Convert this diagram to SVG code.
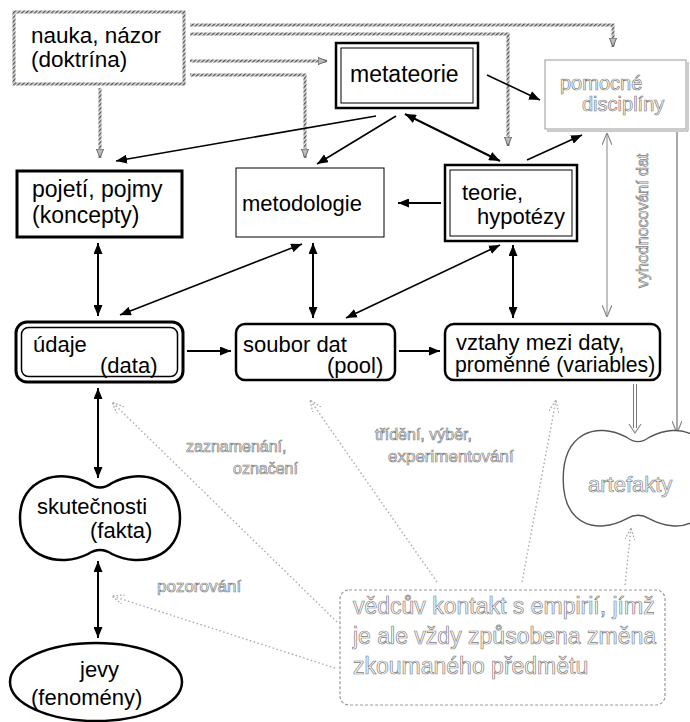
<svg xmlns="http://www.w3.org/2000/svg" width="690" height="722" viewBox="0 0 690 722">
<style>
text{font-family:"Liberation Sans",Arial,sans-serif;fill:#000}
.t{font-size:22px}
.o{fill:#fff;stroke:#808080;stroke-width:0.7}
.c{stroke:#000;fill:none;stroke-width:1.6}
.cv{stroke:#000;fill:none;stroke-width:2}
.h{fill:none;stroke:url(#hatch);stroke-width:3}
.d{fill:none;stroke:#aaa;stroke-width:1.4;stroke-dasharray:1.5 2.5}
</style>
<defs>
<pattern id="hatch" width="3" height="3" patternUnits="userSpaceOnUse" patternTransform="rotate(45)">
<rect width="3" height="3" fill="#e0e0e0"/><rect width="1.4" height="3" fill="#555"/>
</pattern>
<marker id="ah" viewBox="0 0 10 10" refX="10" refY="5" markerWidth="11" markerHeight="9" markerUnits="userSpaceOnUse" orient="auto-start-reverse" preserveAspectRatio="none">
<path d="M0,0 L10,5 L0,10 Z" fill="#000"/>
</marker>
<marker id="hh" viewBox="0 0 10 10" refX="10" refY="5" markerWidth="9" markerHeight="8" markerUnits="userSpaceOnUse" orient="auto" preserveAspectRatio="none">
<path d="M0,0.5 L10,5 L0,9.5 Z" fill="#bbb" stroke="#555" stroke-width="1"/>
</marker>
<marker id="va" viewBox="0 0 10 10" refX="10" refY="5" markerWidth="12" markerHeight="10" markerUnits="userSpaceOnUse" orient="auto-start-reverse" preserveAspectRatio="none">
<path d="M0,0 L10,5 L0,10" fill="none" stroke="#888" stroke-width="1.2"/>
</marker>
<marker id="vd" viewBox="0 0 10 10" refX="10" refY="5" markerWidth="12" markerHeight="10" markerUnits="userSpaceOnUse" orient="auto" preserveAspectRatio="none">
<path d="M0,0 L10,5 L0,10" fill="none" stroke="#aaa" stroke-width="1.2" stroke-dasharray="1.5 1.5"/>
</marker>
<path id="pean" d="M626,439 Q638,448 650,439 C680,423 711,435 711,479 C711,523 680,533 650,517 Q638,510 626,517 C596,533 565,523 565,479 C565,435 596,423 626,439 Z"/>
</defs>

<g id="connectors">
<path class="h" d="M190,25 H613 V47" marker-end="url(#hh)"/>
<path class="h" d="M190,34 H508 V146" marker-end="url(#hh)"/>
<path class="h" d="M190,61 H327" marker-end="url(#hh)"/>
<path class="h" d="M190,75 H305 V158" marker-end="url(#hh)"/>
<path class="h" d="M100,88 V158" marker-end="url(#hh)"/>

<path class="c" d="M376,116 L116,161" marker-end="url(#ah)"/>
<path class="c" d="M396,116 L317,164" marker-end="url(#ah)"/>
<path class="cv" d="M405,114 L500,161" marker-start="url(#ah)" marker-end="url(#ah)"/>
<path class="c" d="M487,75 L540,100" marker-end="url(#ah)"/>
<path class="c" d="M527,160 L582,135" marker-end="url(#ah)"/>
<path class="cv" d="M441,203 L398,203" marker-end="url(#ah)"/>
<path class="cv" d="M98,243 L98,316" marker-start="url(#ah)" marker-end="url(#ah)"/>
<path class="c" d="M302,244 L120,315" marker-start="url(#ah)" marker-end="url(#ah)"/>
<path class="cv" d="M313,243 L313,318" marker-start="url(#ah)" marker-end="url(#ah)"/>
<path class="c" d="M500,245 L346,318" marker-start="url(#ah)" marker-end="url(#ah)"/>
<path class="cv" d="M513,245 L513,318" marker-start="url(#ah)" marker-end="url(#ah)"/>
<path class="cv" d="M187,351 L231,351" marker-end="url(#ah)"/>
<path class="cv" d="M399,351 L440,351" marker-end="url(#ah)"/>
<path class="cv" d="M98,388 L98,478" marker-start="url(#ah)" marker-end="url(#ah)"/>
<path class="cv" d="M98,561 L98,638" marker-start="url(#ah)" marker-end="url(#ah)"/>

<path d="M607,133 V317" fill="none" stroke="#999" stroke-width="1.2" marker-start="url(#va)" marker-end="url(#va)"/>
<path d="M677,132 V433" fill="none" stroke="#555" stroke-width="1" marker-end="url(#va)"/>
<path d="M635,384 V428" fill="none" stroke="#777" stroke-width="4"/>
<path d="M635,383 V429" fill="none" stroke="#fff" stroke-width="2"/>
<path d="M629,424 L635,433 L641,424" fill="none" stroke="#888" stroke-width="1.2"/>

<path class="d" d="M337,622 L112,402" marker-end="url(#vd)"/>
<path class="d" d="M437,582 L310,400" marker-end="url(#vd)"/>
<path class="d" d="M522,582 L556,400" marker-end="url(#vd)"/>
<path class="d" d="M625,585 L631,528" marker-end="url(#vd)"/>
<path class="d" d="M335,668 L112,596" marker-end="url(#vd)"/>
</g>

<g id="nauka">
<rect x="14" y="12" width="170" height="72" fill="#fff" stroke="url(#hatch)" stroke-width="3"/>
<text x="31" y="43" font-size="22.5">nauka, názor</text>
<text x="31" y="67" font-size="22.5">(doktrína)</text>
</g>

<g id="metateorie">
<rect x="336" y="43" width="142" height="65" fill="#fff" stroke="#000" stroke-width="2.5"/>
<rect x="341" y="48" width="132" height="55" fill="none" stroke="#000" stroke-width="1"/>
<text x="350" y="82" font-size="23">metateorie</text>
</g>

<g id="pomocne">
<rect x="545" y="60" width="141" height="69" fill="#fff" stroke="#999" stroke-width="1"/>
<path d="M688,62 V131 H547" fill="none" stroke="#999" stroke-width="1"/>
<text class="o" x="560" y="90" font-size="20">pomocné</text>
<text class="o" x="582" y="111" font-size="20">disciplíny</text>
</g>

<g id="pojeti">
<rect x="17" y="171" width="165" height="66" fill="#fff" stroke="#000" stroke-width="3"/>
<text x="32" y="197" font-size="23">pojetí, pojmy</text>
<text x="32" y="223" font-size="23">(koncepty)</text>
</g>

<g id="metodologie">
<rect x="236" y="168" width="148" height="69" fill="#fff" stroke="#000" stroke-width="1"/>
<text class="t" x="242" y="211">metodologie</text>
</g>

<g id="teorie">
<rect x="445" y="165" width="132" height="76" fill="#fff" stroke="#000" stroke-width="2.5"/>
<rect x="450" y="170" width="122" height="66" fill="none" stroke="#000" stroke-width="1"/>
<text class="t" x="462" y="200">teorie,</text>
<text class="t" x="477" y="224">hypotézy</text>
</g>

<g id="udaje">
<rect x="16" y="322" width="167" height="60" rx="11" fill="#fff" stroke="#000" stroke-width="3"/>
<rect x="21.5" y="327.5" width="156" height="49" rx="7" fill="none" stroke="#000" stroke-width="1.5"/>
<text class="t" x="33" y="352">údaje</text>
<text class="t" x="100" y="373">(data)</text>
</g>

<g id="soubor">
<rect x="236" y="324" width="159" height="56" rx="9" fill="#fff" stroke="#000" stroke-width="2.5"/>
<text class="t" x="243" y="352">soubor dat</text>
<text class="t" x="327" y="373">(pool)</text>
</g>

<g id="vztahy">
<rect x="445" y="324" width="215" height="56" rx="9" fill="#fff" stroke="#000" stroke-width="2.5"/>
<text class="t" x="456" y="350">vztahy mezi daty,</text>
<text x="455" y="372" font-size="21.2">proměnné (variables)</text>
</g>

<g id="skutecnosti">
<path d="M88,483 Q100,492 112,483 C140,468 180,478 180,518 C180,558 140,568 112,554 Q100,546 88,554 C60,568 20,558 20,518 C20,478 60,468 88,483 Z" fill="#fff" stroke="#000" stroke-width="2.5"/>
<text class="t" x="37" y="514">skutečnosti</text>
<text class="t" x="90" y="538">(fakta)</text>
</g>

<g id="jevy">
<ellipse cx="96" cy="682" rx="86" ry="39" fill="#fff" stroke="#000" stroke-width="2.5"/>
<text class="t" x="80" y="677">jevy</text>
<text class="t" x="31" y="705">(fenomény)</text>
</g>

<g id="artefakty">
<use href="#pean" fill="#fff" stroke="#555" stroke-width="5"/>
<use href="#pean" fill="#fff" stroke="#fff" stroke-width="2.2"/>
<text class="o" x="588" y="492" font-size="22">artefakty</text>
</g>

<g id="kontakt">
<rect x="340" y="590" width="325" height="115" rx="9" fill="#fff" stroke="#999" stroke-width="1.2" stroke-dasharray="3 2"/>
<text class="o" x="353" y="614" font-size="23">vědcův kontakt s empirií, jímž</text>
<text class="o" x="353" y="644" font-size="23">je ale vždy způsobena změna</text>
<text class="o" x="353" y="674" font-size="23">zkoumaného předmětu</text>
</g>

<g id="labels">
<text class="o" x="186" y="452" font-size="16">zaznamenání,</text>
<text class="o" x="233" y="474" font-size="16">označení</text>
<text class="o" x="375" y="440" font-size="16">třídění, výběr,</text>
<text class="o" x="388" y="462" font-size="17">experimentování</text>
<text class="o" x="157" y="592" font-size="17">pozorování</text>
<text class="o" transform="translate(648,288) rotate(-90)" x="0" y="0" font-size="16">vyhodnocování dat</text>
</g>
</svg>
